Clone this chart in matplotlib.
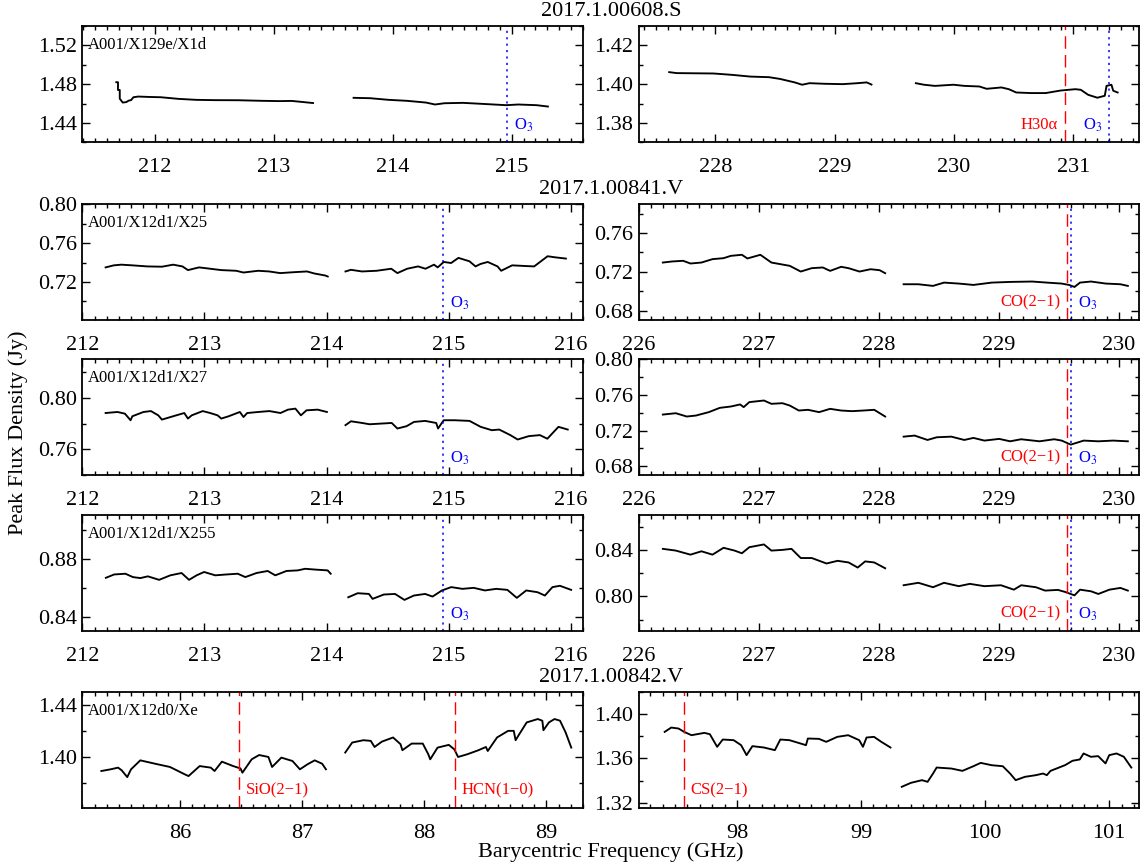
import matplotlib
matplotlib.use('Agg')
import matplotlib.pyplot as plt
from matplotlib.ticker import MultipleLocator, FormatStrFormatter

plt.rcParams['font.family'] = ['Liberation Serif', 'DejaVu Serif']
plt.rcParams['mathtext.fontset'] = 'stix'

# ---- 2017.1.00608.S  (A001/X129e/X1d) ----
x608_lo1 = [211.676, 211.690, 211.690, 211.705, 211.705, 211.730, 211.760, 211.780, 211.800, 211.820,
            211.860, 211.950, 212.050, 212.200, 212.350, 212.500, 212.700, 212.900, 213.050, 213.150,
            213.250, 213.330]
f608_lo1 = [1.4820, 1.4820, 1.4740, 1.4740, 1.4650, 1.4610, 1.4615, 1.4630, 1.4635, 1.4665,
            1.4672, 1.4668, 1.4665, 1.4648, 1.4638, 1.4635, 1.4634, 1.4628, 1.4625, 1.4627,
            1.4615, 1.4605]
x608_lo2 = [213.671, 213.810, 213.967, 214.120, 214.280, 214.356, 214.434, 214.590, 214.747, 214.954,
            215.056, 215.210, 215.305]
f608_lo2 = [1.4659, 1.4655, 1.4638, 1.4628, 1.4610, 1.4590, 1.4603, 1.4607, 1.4597, 1.4583,
            1.4590, 1.4583, 1.4569]
x608_hi1 = [227.613, 227.675, 227.985, 228.139, 228.294, 228.449, 228.541, 228.665, 228.727, 228.789,
            228.912, 229.067, 229.191, 229.268, 229.308]
f608_hi1 = [1.4062, 1.4057, 1.4055, 1.4048, 1.4039, 1.4036, 1.4027, 1.4009, 1.3997, 1.4005,
            1.4002, 1.4000, 1.4005, 1.4009, 1.3998]
x608_hi2 = [229.680, 229.748, 229.840, 229.995, 230.087, 230.212, 230.273, 230.397, 230.459, 230.521,
            230.645, 230.768, 230.892, 231.016, 231.062, 231.124, 231.201, 231.263, 231.278, 231.319,
            231.334, 231.371]
f608_hi2 = [1.4005, 1.3997, 1.3991, 1.3997, 1.3991, 1.3988, 1.3976, 1.3983, 1.3974, 1.3957,
            1.3954, 1.3954, 1.3967, 1.3974, 1.3971, 1.3945, 1.3930, 1.3940, 1.3991, 1.3997,
            1.3966, 1.3957]

# ---- 2017.1.00841.V  (A001/X12d1/X25) ----
x25_lo1 = [212.191, 212.258, 212.319, 212.410, 212.531, 212.652, 212.744, 212.820, 212.865, 212.956,
           213.047, 213.138, 213.260, 213.320, 213.440, 213.530, 213.620, 213.740, 213.840, 213.900,
           213.990, 214.010]
f25_lo1 = [0.7351, 0.7372, 0.7379, 0.7372, 0.7361, 0.7358, 0.7379, 0.7361, 0.7323, 0.7351,
           0.7337, 0.7323, 0.7316, 0.7298, 0.7316, 0.7309, 0.7292, 0.7302, 0.7309, 0.7288,
           0.7267, 0.7257]
x25_lo2 = [214.155, 214.200, 214.290, 214.410, 214.530, 214.580, 214.660, 214.750, 214.810, 214.880,
           214.910, 214.960, 215.020, 215.080, 215.170, 215.220, 215.260, 215.320, 215.400, 215.430,
           215.520, 215.630, 215.700, 215.810, 215.870, 215.960]
f25_lo2 = [0.7309, 0.7326, 0.7309, 0.7316, 0.7337, 0.7292, 0.7337, 0.7361, 0.7337, 0.7379,
           0.7351, 0.7407, 0.7396, 0.7449, 0.7414, 0.7361, 0.7386, 0.7407, 0.7361, 0.7316,
           0.7372, 0.7365, 0.7361, 0.7466, 0.7455, 0.7442]
x25_hi1 = [226.199, 226.276, 226.368, 226.429, 226.521, 226.613, 226.705, 226.766, 226.858, 226.904,
           226.981, 227.012, 227.104, 227.180, 227.257, 227.349, 227.441, 227.533, 227.594, 227.686,
           227.747, 227.839, 227.931, 228.007, 228.053]
f25_hi1 = [0.7296, 0.7307, 0.7314, 0.7286, 0.7296, 0.7331, 0.7341, 0.7365, 0.7376, 0.7338,
           0.7365, 0.7376, 0.7296, 0.7279, 0.7262, 0.7203, 0.7238, 0.7245, 0.7210, 0.7252,
           0.7238, 0.7203, 0.7227, 0.7217, 0.7186]
x25_hi2 = [228.207, 228.329, 228.452, 228.544, 228.667, 228.789, 228.942, 229.095, 229.279, 229.402,
           229.525, 229.586, 229.632, 229.678, 229.770, 229.893, 230.015, 230.077]
f25_hi2 = [0.7072, 0.7072, 0.7055, 0.7089, 0.7079, 0.7065, 0.7089, 0.7096, 0.7100, 0.7089,
           0.7079, 0.7065, 0.7044, 0.7089, 0.7100, 0.7079, 0.7072, 0.7055]

# ---- 2017.1.00841.V  (A001/X12d1/X27) ----
x27_lo1 = [212.191, 212.288, 212.349, 212.395, 212.410, 212.501, 212.562, 212.622, 212.652, 212.744,
           212.835, 212.865, 212.896, 212.986, 213.047, 213.108, 213.138, 213.199, 213.290, 213.320,
           213.350, 213.441, 213.532, 213.623, 213.684, 213.745, 213.790, 213.836, 213.927, 214.003]
f27_lo1 = [0.7882, 0.7890, 0.7877, 0.7826, 0.7857, 0.7890, 0.7897, 0.7864, 0.7831, 0.7857,
           0.7882, 0.7839, 0.7864, 0.7897, 0.7882, 0.7864, 0.7839, 0.7857, 0.7890, 0.7851,
           0.7882, 0.7890, 0.7897, 0.7882, 0.7908, 0.7916, 0.7864, 0.7903, 0.7908, 0.7890]
x27_lo2 = [214.155, 214.200, 214.291, 214.352, 214.443, 214.534, 214.580, 214.655, 214.716, 214.807,
           214.898, 214.913, 214.959, 215.050, 215.171, 215.262, 215.353, 215.414, 215.505, 215.565,
           215.656, 215.747, 215.808, 215.899, 215.975]
f27_lo2 = [0.7788, 0.7818, 0.7805, 0.7795, 0.7800, 0.7805, 0.7762, 0.7780, 0.7813, 0.7821,
           0.7805, 0.7762, 0.7826, 0.7826, 0.7821, 0.7775, 0.7749, 0.7754, 0.7711, 0.7677,
           0.7703, 0.7711, 0.7683, 0.7775, 0.7754]
x27_hi1 = [226.199, 226.307, 226.398, 226.475, 226.582, 226.674, 226.766, 226.843, 226.873, 226.920,
           227.042, 227.104, 227.196, 227.257, 227.333, 227.410, 227.502, 227.594, 227.686, 227.778,
           227.870, 227.962, 228.053]
f27_hi1 = [0.7379, 0.7394, 0.7357, 0.7368, 0.7406, 0.7454, 0.7469, 0.7492, 0.7462, 0.7518,
           0.7536, 0.7499, 0.7506, 0.7480, 0.7424, 0.7432, 0.7406, 0.7443, 0.7424, 0.7417,
           0.7424, 0.7432, 0.7357]
x27_hi2 = [228.207, 228.299, 228.406, 228.483, 228.605, 228.713, 228.789, 228.881, 229.004, 229.095,
           229.187, 229.340, 229.463, 229.525, 229.601, 229.709, 229.831, 229.954, 230.077]
f27_hi2 = [0.7132, 0.7144, 0.7095, 0.7125, 0.7132, 0.7095, 0.7118, 0.7088, 0.7107, 0.7080,
           0.7103, 0.7080, 0.7103, 0.7088, 0.7043, 0.7088, 0.7080, 0.7088, 0.7080]

# ---- 2017.1.00841.V  (A001/X12d1/X255) ----
x255_lo1 = [212.193, 212.261, 212.353, 212.414, 212.475, 212.537, 212.629, 212.721, 212.813, 212.874,
            212.936, 212.997, 213.089, 213.181, 213.273, 213.335, 213.427, 213.518, 213.580, 213.672,
            213.764, 213.825, 213.917, 214.009, 214.034]
f255_lo1 = [0.8668, 0.8691, 0.8696, 0.8673, 0.8666, 0.8678, 0.8654, 0.8685, 0.8701, 0.8654,
            0.8685, 0.8708, 0.8685, 0.8691, 0.8696, 0.8673, 0.8701, 0.8715, 0.8685, 0.8715,
            0.8719, 0.8730, 0.8724, 0.8719, 0.8696]
x255_lo2 = [214.178, 214.255, 214.347, 214.377, 214.469, 214.561, 214.638, 214.715, 214.807, 214.868,
            214.945, 215.021, 215.113, 215.205, 215.297, 215.389, 215.481, 215.558, 215.635, 215.727,
            215.788, 215.850, 215.911, 216.003]
f255_lo2 = [0.8534, 0.8562, 0.8557, 0.8523, 0.8553, 0.8557, 0.8516, 0.8546, 0.8557, 0.8539,
            0.8581, 0.8604, 0.8592, 0.8599, 0.8581, 0.8592, 0.8585, 0.8530, 0.8581, 0.8569,
            0.8546, 0.8604, 0.8613, 0.8585]
x255_hi1 = [226.199, 226.307, 226.429, 226.521, 226.613, 226.705, 226.797, 226.858, 226.920, 227.042,
            227.104, 227.196, 227.272, 227.349, 227.441, 227.564, 227.656, 227.748, 227.824, 227.886,
            227.962, 228.053]
f255_hi1 = [0.8409, 0.8394, 0.8359, 0.8388, 0.8359, 0.8418, 0.8394, 0.8371, 0.8423, 0.8447,
            0.8394, 0.8400, 0.8409, 0.8330, 0.8330, 0.8283, 0.8306, 0.8292, 0.8248, 0.8301,
            0.8292, 0.8242]
x255_hi2 = [228.207, 228.330, 228.452, 228.544, 228.667, 228.759, 228.881, 229.019, 229.126, 229.188,
            229.310, 229.387, 229.494, 229.555, 229.632, 229.678, 229.770, 229.831, 229.923, 230.015,
            230.077]
f255_hi2 = [0.8096, 0.8117, 0.8079, 0.8117, 0.8088, 0.8108, 0.8088, 0.8096, 0.8058, 0.8096,
            0.8079, 0.8050, 0.8056, 0.8038, 0.8009, 0.8058, 0.8044, 0.8021, 0.8058, 0.8073,
            0.8050]

# ---- 2017.1.00842.V  (A001/X12d0/Xe) ----
x842_lo1 = [85.356, 85.432, 85.493, 85.523, 85.568, 85.599, 85.675, 85.796, 85.918, 86.040,
            86.070, 86.161, 86.252, 86.283, 86.343, 86.435, 86.495, 86.511, 86.587, 86.648,
            86.724, 86.754, 86.830, 86.921, 86.982, 87.043, 87.103, 87.164, 87.195]
f842_lo1 = [1.3892, 1.3905, 1.3918, 1.3897, 1.3845, 1.3905, 1.3974, 1.3948, 1.3923, 1.3866,
            1.3853, 1.3930, 1.3918, 1.3892, 1.3964, 1.3930, 1.3912, 1.3879, 1.3982, 1.4015,
            1.4000, 1.3923, 1.3995, 1.3969, 1.3905, 1.3943, 1.3974, 1.3948, 1.3905]
x842_lo2 = [87.353, 87.410, 87.502, 87.562, 87.593, 87.653, 87.745, 87.806, 87.821, 87.897,
            87.988, 88.033, 88.049, 88.109, 88.201, 88.246, 88.277, 88.353, 88.444, 88.505,
            88.520, 88.596, 88.687, 88.733, 88.748, 88.778, 88.839, 88.930, 88.967, 88.976,
            89.021, 89.067, 89.112, 89.158, 89.204]
f842_lo2 = [1.4034, 1.4111, 1.4129, 1.4124, 1.4077, 1.4118, 1.4150, 1.4098, 1.4052, 1.4103,
            1.4103, 1.4021, 1.3982, 1.4072, 1.4093, 1.4059, 1.4000, 1.4021, 1.4052, 1.4077,
            1.4046, 1.4150, 1.4201, 1.4201, 1.4129, 1.4175, 1.4266, 1.4292, 1.4279, 1.4206,
            1.4266, 1.4292, 1.4279, 1.4188, 1.4072]
x842_hi1 = [97.417, 97.470, 97.529, 97.574, 97.633, 97.737, 97.781, 97.840, 97.885, 97.973,
            98.033, 98.077, 98.124, 98.216, 98.305, 98.349, 98.423, 98.512, 98.556, 98.571,
            98.660, 98.719, 98.808, 98.896, 98.985, 99.015, 99.044, 99.104, 99.163, 99.237]
f842_hi1 = [1.3840, 1.3879, 1.3870, 1.3840, 1.3810, 1.3831, 1.3819, 1.3705, 1.3771, 1.3765,
            1.3720, 1.3630, 1.3711, 1.3699, 1.3675, 1.3771, 1.3765, 1.3735, 1.3720, 1.3780,
            1.3777, 1.3750, 1.3795, 1.3810, 1.3765, 1.3705, 1.3789, 1.3795, 1.3750, 1.3699]
x842_hi2 = [99.328, 99.402, 99.491, 99.536, 99.580, 99.609, 99.728, 99.817, 99.905, 99.964,
            100.053, 100.142, 100.201, 100.246, 100.320, 100.408, 100.467, 100.497, 100.527, 100.645,
            100.704, 100.763, 100.793, 100.852, 100.911, 100.970, 101.000, 101.059, 101.118, 101.178]
f842_hi2 = [1.3344, 1.3380, 1.3404, 1.3389, 1.3464, 1.3518, 1.3509, 1.3488, 1.3530, 1.3560,
            1.3539, 1.3530, 1.3464, 1.3404, 1.3434, 1.3449, 1.3464, 1.3449, 1.3488, 1.3540,
            1.3579, 1.3591, 1.3645, 1.3615, 1.3621, 1.3555, 1.3630, 1.3645, 1.3615, 1.3518]

# line markers: (frequency, label, colour, side of the label)
o3_label = r'O$_3$'
lines_608_lo = [(214.96, o3_label, 'blue', 'right')]
lines_608_hi = [(230.93, 'H30\u03b1', 'red', 'left'), (231.30, o3_label, 'blue', 'left')]
lines_841_lo = [(214.95, o3_label, 'blue', 'right')]
lines_841_hi = [(229.57, 'CO(2\u22121)', 'red', 'left'), (229.60, o3_label, 'blue', 'right')]
lines_842_lo = [(86.48, 'SiO(2\u22121)', 'red', 'right'), (88.25, 'HCN(1\u22120)', 'red', 'right')]
lines_842_hi = [(97.57, 'CS(2\u22121)', 'red', 'right')]

W, H = 1143, 867
fig = plt.figure(figsize=(W / 100, H / 100), dpi=100)

row_top = [26, 204, 359, 515, 692]
row_h = 116.3
col_x = [(82.3, 583.0), (639.0, 1139.0)]

panels = [
    # row, col, segments, xlim, ylim, ystep, name, lines
    (0, 0, [(x608_lo1, f608_lo1), (x608_lo2, f608_lo2)], (211.39, 215.6), (1.42, 1.54), 0.04,
     'A001/X129e/X1d', lines_608_lo),
    (0, 1, [(x608_hi1, f608_hi1), (x608_hi2, f608_hi2)], (227.36, 231.55), (1.37, 1.43), 0.02,
     None, lines_608_hi),
    (1, 0, [(x25_lo1, f25_lo1), (x25_lo2, f25_lo2)], (212.0, 216.1), (0.6805, 0.8005), 0.04,
     'A001/X12d1/X25', lines_841_lo),
    (1, 1, [(x25_hi1, f25_hi1), (x25_hi2, f25_hi2)], (226.0, 230.17), (0.67, 0.79), 0.04,
     None, lines_841_hi),
    (2, 0, [(x27_lo1, f27_lo1), (x27_lo2, f27_lo2)], (212.0, 216.1), (0.74, 0.83), 0.04,
     'A001/X12d1/X27', lines_841_lo),
    (2, 1, [(x27_hi1, f27_hi1), (x27_hi2, f27_hi2)], (226.0, 230.17), (0.67, 0.80), 0.04,
     None, lines_841_hi),
    (3, 0, [(x255_lo1, f255_lo1), (x255_lo2, f255_lo2)], (212.0, 216.1), (0.83, 0.91), 0.04,
     'A001/X12d1/X255', lines_841_lo),
    (3, 1, [(x255_hi1, f255_hi1), (x255_hi2, f255_hi2)], (226.0, 230.17), (0.77, 0.87), 0.04,
     None, lines_841_hi),
    (4, 0, [(x842_lo1, f842_lo1), (x842_lo2, f842_lo2)], (85.2, 89.3), (1.3605, 1.45), 0.04,
     'A001/X12d0/Xe', lines_842_lo),
    (4, 1, [(x842_hi1, f842_hi1), (x842_hi2, f842_hi2)], (97.21, 101.24), (1.315, 1.42), 0.04,
     None, lines_842_hi),
]

for row, col, segs, xlim, ylim, ystep, name, marks in panels:
    x0, x1 = col_x[col]
    top = row_top[row]
    ax = fig.add_axes([x0 / W, 1 - (top + row_h) / H, (x1 - x0) / W, row_h / H])
    for xs, fs in segs:
        ax.plot(xs, fs, color='black', lw=1.35)
    for freq, text, colour, side in marks:
        if colour == 'red':
            ax.axvline(freq, color='red', lw=1.0, dashes=(9, 4.5))
        else:
            ax.axvline(freq, color='blue', lw=1.1, dashes=(1.4, 2.8))
        off = 5 if side == 'right' else -5
        ax.annotate(text, xy=(freq, 0.15), xycoords=('data', 'axes fraction'),
                    xytext=(off, 0), textcoords='offset points',
                    ha='left' if side == 'right' else 'right', va='center',
                    color=colour, fontsize=12)
    if name:
        ax.text(0.012, 0.835, name, transform=ax.transAxes, fontsize=12,
                ha='left', va='center')
    ax.set_xlim(*xlim)
    ax.set_ylim(*ylim)
    ax.xaxis.set_major_locator(MultipleLocator(1))
    ax.xaxis.set_minor_locator(MultipleLocator(0.1))
    ax.yaxis.set_major_locator(MultipleLocator(ystep))
    ax.yaxis.set_minor_locator(MultipleLocator(ystep / 2))
    ax.yaxis.set_major_formatter(FormatStrFormatter('%.2f'))
    ax.xaxis.set_major_formatter(FormatStrFormatter('%d'))
    ax.tick_params(which='both', direction='in', top=True, right=True, width=1.0)
    ax.tick_params(which='major', length=6, labelsize=16)
    ax.tick_params(axis='x', which='major', pad=11)
    ax.tick_params(axis='y', which='major', pad=4)
    ax.tick_params(which='minor', length=3)
    for sp in ax.spines.values():
        sp.set_linewidth(1.3)

fig.text(611 / W, 1 - 12 / H, '2017.1.00608.S', ha='center', va='center', fontsize=16)
fig.text(611 / W, 1 - 190 / H, '2017.1.00841.V', ha='center', va='center', fontsize=16)
fig.text(611 / W, 1 - 677 / H, '2017.1.00842.V', ha='center', va='center', fontsize=16)
fig.text(611 / W, 1 - 852 / H, 'Barycentric Frequency (GHz)', ha='center', va='center', fontsize=16)
fig.text(18 / W, 1 - 433 / H, 'Peak Flux Density (Jy)', ha='center', va='center',
         rotation=90, fontsize=16)

fig.savefig('out.png', dpi=100)
